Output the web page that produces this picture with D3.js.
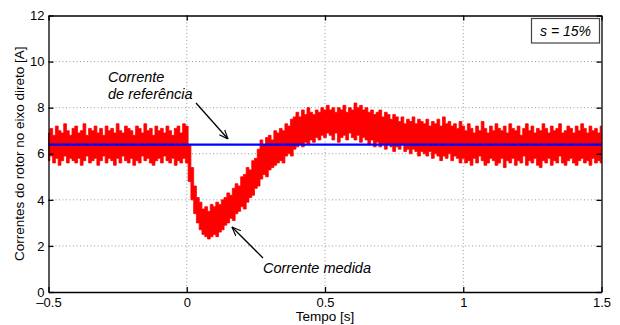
<!DOCTYPE html>
<html><head><meta charset="utf-8">
<script src="https://cdn.jsdelivr.net/npm/d3@7"></script>
<style>
body{margin:0;background:#fff;}
text{font-family:"Liberation Sans",Arial,sans-serif;}
</style></head>
<body><svg id="c" width="620" height="325"></svg>
<script>
// time grid for the measured-current envelope (s)
const tStart = -0.5, tStep = 0.01;
// upper envelope of measured current [A]
const measuredUpper = [
6.9,7.1,6.8,7.2,7.0,6.9,7.3,7.0,6.8,7.1,
7.2,6.9,7.0,7.3,6.8,7.1,7.0,7.2,6.9,7.1,
6.8,7.2,7.0,7.1,6.9,7.3,7.0,6.9,7.2,7.1,
7.0,6.8,7.2,7.1,6.9,7.3,7.0,7.1,6.8,7.2,
7.0,7.1,6.9,7.2,7.0,6.8,7.1,7.2,6.9,7.3,
7.2,6.4,5.4,4.6,4.1,3.9,3.6,3.7,3.5,3.8,
3.7,3.9,3.8,4.0,4.1,4.3,4.2,4.5,4.7,4.6,
5.0,5.1,5.4,5.3,5.7,5.8,6.2,6.6,6.4,6.7,
6.8,6.6,7.0,6.9,7.1,7.0,7.3,7.2,7.5,7.6,
7.8,7.6,7.9,7.7,8.0,7.8,7.7,7.9,7.8,8.0,
7.9,8.1,7.9,8.0,7.8,8.0,7.9,8.1,7.8,8.0,
7.9,8.2,8.0,8.1,7.9,8.0,7.8,7.9,7.7,7.8,
7.9,7.6,7.8,7.7,7.5,7.7,7.6,7.4,7.6,7.3,
7.5,7.4,7.6,7.3,7.5,7.4,7.3,7.5,7.2,7.4,
7.3,7.5,7.2,7.6,7.3,7.4,7.2,7.3,7.1,7.4,
7.2,7.0,7.3,7.1,6.9,7.2,7.0,7.4,7.1,6.9,
7.2,7.0,7.3,7.1,7.0,7.2,6.9,7.3,7.1,7.0,
7.2,6.8,7.1,7.3,7.0,7.2,6.9,7.1,7.0,7.3,
7.1,6.9,7.2,7.0,7.1,7.3,6.9,7.0,7.2,7.1,
6.9,7.2,7.0,7.3,7.1,6.9,7.2,7.0,7.1,6.9,7.2
];
// lower envelope of measured current [A]
const measuredLower = [
5.7,5.9,5.6,5.8,5.5,5.7,5.9,5.6,5.8,5.7,
5.6,5.8,5.5,5.7,5.9,5.6,5.7,5.8,5.5,5.7,
5.9,5.6,5.8,5.7,5.5,5.8,5.6,5.9,5.7,5.6,
5.8,5.5,5.7,5.6,5.9,5.7,5.8,5.6,5.5,5.7,
5.8,5.6,5.9,5.7,5.6,5.8,5.5,5.7,5.6,5.8,
5.6,4.8,4.0,3.4,3.0,2.7,2.5,2.4,2.3,2.4,
2.5,2.4,2.6,2.7,2.9,3.0,3.2,3.1,3.4,3.5,
3.7,3.6,3.9,4.1,4.2,4.5,4.6,4.9,5.1,5.0,
5.3,5.4,5.5,5.6,5.7,5.6,5.9,6.0,5.9,6.2,
6.3,6.4,6.3,6.5,6.4,6.6,6.5,6.7,6.6,6.8,
6.7,6.9,6.8,6.6,6.9,6.5,6.7,6.8,6.6,6.9,
6.7,6.6,6.8,6.5,6.7,6.6,6.4,6.6,6.3,6.5,
6.3,6.4,6.2,6.4,6.3,6.1,6.3,6.2,6.4,6.1,
6.2,6.0,6.2,6.1,5.9,6.1,6.0,5.9,6.1,5.8,
6.0,5.9,5.7,5.9,5.8,6.0,5.7,5.9,5.8,5.6,
5.8,5.6,5.7,5.5,5.8,5.6,5.9,5.7,5.5,5.6,
5.8,5.7,5.5,5.6,5.8,5.4,5.7,5.6,5.8,5.5,
5.7,5.6,5.9,5.5,5.7,5.6,5.8,5.5,5.4,5.7,
5.6,5.8,5.5,5.7,5.6,5.9,5.6,5.5,5.7,5.8,
5.6,5.5,5.7,5.8,5.6,5.7,5.5,5.8,5.6,5.7,5.6
];
const referenceValue = 6.4;
const xTicks = [-0.5, 0, 0.5, 1, 1.5];
const xTickLabels = ["\u20130.5", "0", "0.5", "1", "1.5"];
const yTicks = [0, 2, 4, 6, 8, 10, 12];

const svg = d3.select("#c");
const L = 48.5, R = 601.5, T = 15.5, B = 292;
const x = d3.scaleLinear().domain([-0.5, 1.5]).range([L, R]);
const y = d3.scaleLinear().domain([0, 12]).range([B, T]);

// grid
const g = svg.append("g");
g.selectAll(".gx").data(xTicks.slice(1, -1)).enter().append("line")
  .attr("x1", d => x(d)).attr("x2", d => x(d)).attr("y1", T).attr("y2", B)
  .attr("stroke", "#999").attr("stroke-width", 1).attr("stroke-dasharray", "1,2.5");
g.selectAll(".gy").data(yTicks.slice(1, -1)).enter().append("line")
  .attr("y1", d => y(d)).attr("y2", d => y(d)).attr("x1", L).attr("x2", R)
  .attr("stroke", "#999").attr("stroke-width", 1).attr("stroke-dasharray", "1,2.5");

// measured current band
const n = Math.min(measuredUpper.length, measuredLower.length);
const data = d3.range(n).map(i => ({t: tStart + i * tStep, u: measuredUpper[i], l: measuredLower[i]}));
const area = d3.area().curve(d3.curveStep).x(d => x(d.t)).y0(d => y(d.l)).y1(d => y(d.u));
svg.append("path").datum(data).attr("d", area).attr("fill", "#ff0000").attr("stroke", "#ff0000").attr("stroke-width", 0.8);

// reference line
svg.append("line").attr("x1", x(-0.5)).attr("x2", x(1.5)).attr("y1", y(referenceValue)).attr("y2", y(referenceValue))
  .attr("stroke", "#0000ff").attr("stroke-width", 2.2);

// axes (MATLAB-like inward ticks)
const axB = d3.axisBottom(x).tickValues(xTicks).tickSizeInner(-5).tickSizeOuter(0).tickFormat((d, i) => xTickLabels[i]);
const axT = d3.axisTop(x).tickValues(xTicks).tickSizeInner(-5).tickSizeOuter(0).tickFormat("");
const axL = d3.axisLeft(y).tickValues(yTicks).tickSizeInner(-5).tickSizeOuter(0);
const axR = d3.axisRight(y).tickValues(yTicks).tickSizeInner(-5).tickSizeOuter(0).tickFormat("");
function style(sel){
  sel.select(".domain").attr("stroke", "#000").attr("stroke-width", 1.3);
  sel.selectAll(".tick line").attr("stroke", "#000").attr("stroke-width", 1.3);
  sel.selectAll("text").attr("font-size", 13).attr("fill", "#000").attr("font-family", "Liberation Sans, Arial, sans-serif");
}
svg.append("g").attr("transform", `translate(0,${B})`).call(axB).call(style).selectAll("text").attr("y", 6).attr("dy", "0.71em");
svg.append("g").attr("transform", `translate(0,${T})`).call(axT).call(style);
svg.append("g").attr("transform", `translate(${L},0)`).call(axL).call(style).selectAll("text").attr("x", -4);
svg.append("g").attr("transform", `translate(${R},0)`).call(axR).call(style);

// axis titles
svg.append("text").attr("x", (L + R) / 2).attr("y", 321).attr("text-anchor", "middle").attr("font-size", 13.5).text("Tempo [s]");
svg.append("text").attr("transform", `translate(24,${(T + B) / 2}) rotate(-90)`).attr("text-anchor", "middle").attr("font-size", 13.5)
  .text("Correntes do rotor no eixo direto [A]");

// legend box
svg.append("rect").attr("x", 531.5).attr("y", 18.5).attr("width", 68).attr("height", 24.5).attr("fill", "#fff").attr("stroke", "#444").attr("stroke-width", 1.2);
svg.append("text").attr("x", 565.5).attr("y", 36).attr("text-anchor", "middle").attr("font-size", 14).attr("font-style", "italic").text("s = 15%");

// annotations
const defs = svg.append("defs");
defs.append("marker").attr("id", "ah").attr("viewBox", "0 0 10 10").attr("refX", 10).attr("refY", 5)
  .attr("markerWidth", 9).attr("markerHeight", 9).attr("markerUnits", "userSpaceOnUse").attr("orient", "auto")
  .append("path").attr("d", "M0,1 L10,5 L0,9").attr("fill", "none").attr("stroke", "#000").attr("stroke-width", 1.3);
svg.append("text").attr("x", 108).attr("y", 82).attr("font-size", 14.5).attr("font-style", "italic").text("Corrente");
svg.append("text").attr("x", 108).attr("y", 99).attr("font-size", 14.5).attr("font-style", "italic").text("de referência");
svg.append("line").attr("x1", 196).attr("y1", 103).attr("x2", 228).attr("y2", 139).attr("stroke", "#000").attr("stroke-width", 1.3).attr("marker-end", "url(#ah)");
svg.append("text").attr("x", 263).attr("y", 273).attr("font-size", 14.5).attr("font-style", "italic").text("Corrente medida");
svg.append("line").attr("x1", 263).attr("y1", 258).attr("x2", 232).attr("y2", 227).attr("stroke", "#000").attr("stroke-width", 1.3).attr("marker-end", "url(#ah)");
</script></body></html>
